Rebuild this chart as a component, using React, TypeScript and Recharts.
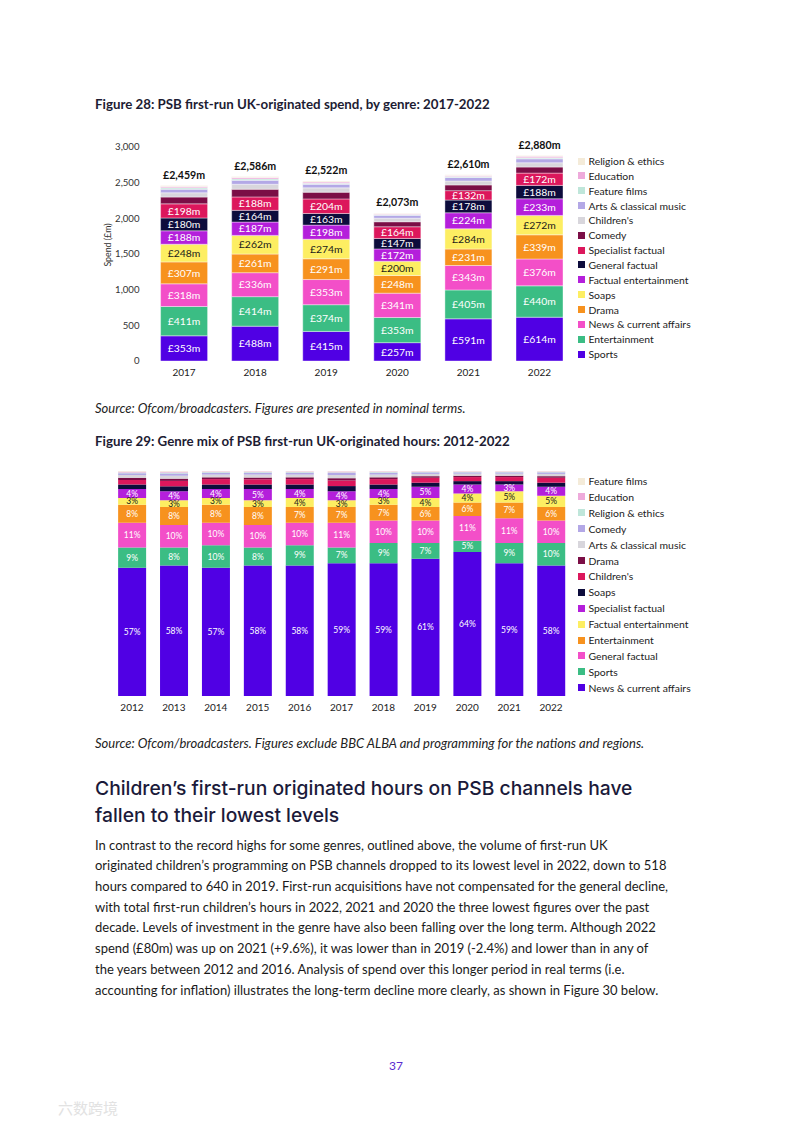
import React from 'react';
import { BarChart, Bar, XAxis, YAxis, LabelList } from 'recharts';

// ---- Figure 28 data (spend, £m) ----
const years28 = ['2017', '2018', '2019', '2020', '2021', '2022'];
const sports28 = [353, 488, 415, 257, 591, 614];
const entertainment28 = [411, 414, 374, 353, 405, 440];
const news28 = [318, 336, 353, 341, 343, 376];
const drama28 = [307, 261, 291, 248, 231, 339];
const soaps28 = [248, 262, 274, 200, 284, 272];
const factEnt28 = [188, 187, 198, 172, 224, 233];
const genFact28 = [180, 164, 163, 147, 178, 188];
const specFact28 = [198, 188, 204, 164, 132, 172];
const comedy28 = [95, 108, 95, 70, 80, 85];
const children28 = [60, 70, 60, 50, 55, 60];
const arts28 = [50, 55, 50, 40, 50, 55];
const feature28 = [20, 20, 15, 10, 12, 15];
const education28 = [20, 20, 18, 12, 15, 20];
const religion28 = [11, 13, 12, 9, 10, 11];
const totals28 = [2459, 2586, 2522, 2073, 2610, 2880];
const yTicks28 = [0, 500, 1000, 1500, 2000, 2500, 3000];

// ---- Figure 29 data (share of hours, %) ----
const years29 = ['2012', '2013', '2014', '2015', '2016', '2017', '2018', '2019', '2020', '2021', '2022'];
const news29 = [57, 58, 57, 58, 58, 59, 59, 61, 64, 59, 58];
const sports29 = [9, 8, 10, 8, 9, 7, 9, 7, 5, 9, 10];
const genFact29 = [11, 10, 10, 10, 10, 11, 10, 10, 11, 11, 10];
const entertainment29 = [8, 8, 8, 8, 7, 7, 7, 6, 6, 7, 6];
const factEnt29 = [3, 3, 3, 3, 4, 3, 3, 4, 4, 5, 5];
const specFact29 = [4, 4, 4, 5, 4, 4, 4, 5, 4, 3, 4];
const soaps29 = [2, 2.2, 2, 2, 2, 2.3, 2, 1.8, 1.5, 1.5, 1.8];
const children29 = [2, 2.4, 2.4, 2.3, 2.4, 2.5, 2.4, 2.2, 1.8, 1.8, 2.2];
const drama29 = [1, 1, 0.8, 0.8, 0.8, 1, 0.8, 0.7, 0.6, 0.6, 0.7];
const arts29 = [1.2, 1.3, 1.2, 1.3, 1.2, 1.4, 1.2, 1, 0.9, 0.9, 1];
const comedy29 = [0.8, 1, 0.8, 0.8, 0.8, 0.9, 0.8, 0.7, 0.6, 0.6, 0.7];
const religion29 = [0.3, 0.4, 0.3, 0.3, 0.3, 0.3, 0.3, 0.2, 0.2, 0.2, 0.2];
const education29 = [0.4, 0.4, 0.3, 0.3, 0.3, 0.4, 0.3, 0.2, 0.2, 0.2, 0.2];
const feature29 = [0.3, 0.3, 0.2, 0.2, 0.2, 0.2, 0.2, 0.2, 0.2, 0.2, 0.2];

const C = {
  purple: '#5000e4',
  green: '#3bbd84',
  pink: '#f34fc8',
  orange: '#f7921e',
  yellow: '#fdee62',
  magenta: '#b41fdb',
  navy: '#0d0c3c',
  crimson: '#dc175c',
  maroon: '#7b0e46',
  grey: '#d8d6dc',
  lavender: '#b3a8e6',
  mint: '#bfe6da',
  lightPink: '#eeaadb',
  cream: '#f4ebd9',
};

// bottom -> top stacking order
const series28 = [
  { key: 'sports', name: 'Sports', color: C.purple, values: sports28, label: '#fff' },
  { key: 'entertainment', name: 'Entertainment', color: C.green, values: entertainment28, label: '#fff' },
  { key: 'news', name: 'News & current affairs', color: C.pink, values: news28, label: '#fff' },
  { key: 'drama', name: 'Drama', color: C.orange, values: drama28, label: '#fff' },
  { key: 'soaps', name: 'Soaps', color: C.yellow, values: soaps28, label: '#1a1a1a' },
  { key: 'factEnt', name: 'Factual entertainment', color: C.magenta, values: factEnt28, label: '#fff' },
  { key: 'genFact', name: 'General factual', color: C.navy, values: genFact28, label: '#fff' },
  { key: 'specFact', name: 'Specialist factual', color: C.crimson, values: specFact28, label: '#fff' },
  { key: 'comedy', name: 'Comedy', color: C.maroon, values: comedy28 },
  { key: 'children', name: "Children's", color: C.grey, values: children28 },
  { key: 'arts', name: 'Arts & classical music', color: C.lavender, values: arts28 },
  { key: 'feature', name: 'Feature films', color: C.mint, values: feature28 },
  { key: 'education', name: 'Education', color: C.lightPink, values: education28 },
  { key: 'religion', name: 'Religion & ethics', color: C.cream, values: religion28 },
];

const series29 = [
  { key: 'news', name: 'News & current affairs', color: C.purple, values: news29, label: '#fff' },
  { key: 'sports', name: 'Sports', color: C.green, values: sports29, label: '#fff' },
  { key: 'genFact', name: 'General factual', color: C.pink, values: genFact29, label: '#fff' },
  { key: 'entertainment', name: 'Entertainment', color: C.orange, values: entertainment29, label: '#fff' },
  { key: 'factEnt', name: 'Factual entertainment', color: C.yellow, values: factEnt29, label: '#1a1a1a' },
  { key: 'specFact', name: 'Specialist factual', color: C.magenta, values: specFact29, label: '#fff' },
  { key: 'soaps', name: 'Soaps', color: C.navy, values: soaps29 },
  { key: 'children', name: "Children's", color: C.crimson, values: children29 },
  { key: 'drama', name: 'Drama', color: C.maroon, values: drama29 },
  { key: 'arts', name: 'Arts & classical music', color: C.grey, values: arts29 },
  { key: 'comedy', name: 'Comedy', color: C.lavender, values: comedy29 },
  { key: 'religion', name: 'Religion & ethics', color: C.mint, values: religion29 },
  { key: 'education', name: 'Education', color: C.lightPink, values: education29 },
  { key: 'feature', name: 'Feature films', color: C.cream, values: feature29 },
];

const data28 = years28.map((year, i) => {
  const row: Record<string, string | number> = { year, total: totals28[i] };
  series28.forEach((s) => (row[s.key] = s.values[i]));
  return row;
});

const data29 = years29.map((year, i) => {
  const row: Record<string, string | number> = { year };
  series29.forEach((s) => (row[s.key] = s.values[i]));
  return row;
});

const FONT = 'Lato, "Open Sans", sans-serif';
const TEXT = '#1d1c33';

function Legend({ items, top, step, left }: { items: { name: string; color: string }[]; top: number; step: number; left: number }) {
  return (
    <div style={{ position: 'absolute', left, top: 0 }}>
      {items.map((it, i) => (
        <div
          key={it.name}
          style={{
            position: 'absolute',
            top: top + i * step - 7,
            left: 0,
            height: 14,
            display: 'flex',
            alignItems: 'center',
            whiteSpace: 'nowrap',
            fontSize: 10.4,
            color: '#222',
          }}
        >
          <span style={{ width: 7, height: 7, background: it.color, marginRight: 3.5, display: 'inline-block' }} />
          {it.name}
        </div>
      ))}
    </div>
  );
}

const abs = (left: number, top: number, extra: React.CSSProperties = {}): React.CSSProperties => ({
  position: 'absolute',
  left,
  top,
  whiteSpace: 'nowrap',
  ...extra,
});

const bodyLines = [
  'In contrast to the record highs for some genres, outlined above, the volume of first-run UK',
  'originated children\u2019s programming on PSB channels dropped to its lowest level in 2022, down to 518',
  'hours compared to 640 in 2019. First-run acquisitions have not compensated for the general decline,',
  'with total first-run children\u2019s hours in 2022, 2021 and 2020 the three lowest figures over the past',
  'decade. Levels of investment in the genre have also been falling over the long term. Although 2022',
  'spend (\u00a380m) was up on 2021 (+9.6%), it was lower than in 2019 (-2.4%) and lower than in any of',
  'the years between 2012 and 2016. Analysis of spend over this longer period in real terms (i.e.',
  'accounting for inflation) illustrates the long-term decline more clearly, as shown in Figure 30 below.',
];

export default function App() {
  return (
    <div style={{ position: 'absolute', left: 0, top: 0, width: 793, height: 1122, background: '#fff', fontFamily: FONT, color: TEXT }}>
      {/* Figure 28 */}
      <div style={abs(95, 95.5, { fontSize: 13.3, fontWeight: 700 })}>
        Figure 28: PSB first-run UK-originated spend, by genre: 2017-2022
      </div>
      <div style={abs(107, 245, { fontSize: 8.8, color: '#333', transform: 'translate(-50%, -50%) rotate(-90deg)' })}>
        Spend (£m)
      </div>
      <div style={abs(95, 130)}>
        <BarChart width={480} height={256} data={data28} margin={{ top: 17, right: 0, bottom: 0, left: 0 }} barCategoryGap="17%">
          <YAxis
            width={53.5}
            domain={[0, 3000]}
            ticks={yTicks28}
            axisLine={false}
            tickLine={false}
            tickMargin={3}
            tick={{ fontSize: 9.6, fill: '#333', fontFamily: FONT }}
            tickFormatter={(v: number) => v.toLocaleString('en-GB')}
          />
          <XAxis
            dataKey="year"
            height={25}
            axisLine={false}
            tickLine={false}
            tick={{ fontSize: 10, fill: '#222', fontFamily: FONT }}
          />
          {series28.map((s, idx) => (
            <Bar key={s.key} dataKey={s.key} stackId="a" fill={s.color} stroke="#fff" strokeWidth={0.4} isAnimationActive={false}>
              {s.label && (
                <LabelList
                  dataKey={s.key}
                  position="center"
                  fill={s.label}
                  style={{ fontSize: 10.4, fontFamily: FONT }}
                  formatter={(v: number) => `£${v}m`}
                />
              )}
              {idx === series28.length - 1 && (
                <LabelList
                  dataKey="total"
                  position="top"
                  offset={7}
                  fill="#111"
                  style={{ fontSize: 10.6, fontWeight: 700, fontFamily: FONT }}
                  formatter={(v: number) => `£${v.toLocaleString('en-GB')}m`}
                />
              )}
            </Bar>
          ))}
        </BarChart>
      </div>
      <Legend items={[...series28].reverse()} top={161} step={14.85} left={578} />
      <div style={abs(95, 399.5, { fontSize: 13, fontStyle: 'italic', color: '#222' })}>
        Source: Ofcom/broadcasters. Figures are presented in nominal terms.
      </div>

      {/* Figure 29 */}
      <div style={abs(95, 432.5, { fontSize: 13.3, fontWeight: 700 })}>
        Figure 29: Genre mix of PSB first-run UK-originated hours: 2012-2022
      </div>
      <div style={abs(111, 466)}>
        <BarChart width={461} height={255} data={data29} stackOffset="expand" margin={{ top: 5, right: 0, bottom: 0, left: 0 }} barCategoryGap="17%">
          <YAxis hide domain={[0, 1]} />
          <XAxis
            dataKey="year"
            height={25}
            axisLine={false}
            tickLine={false}
            tick={{ fontSize: 10, fill: '#222', fontFamily: FONT }}
          />
          {series29.map((s) => (
            <Bar key={s.key} dataKey={s.key} stackId="b" fill={s.color} isAnimationActive={false}>
              {s.label && (
                <LabelList
                  dataKey={s.key}
                  position="center"
                  fill={s.label}
                  style={{ fontSize: 8.5, fontFamily: FONT }}
                  formatter={(v: number) => `${v}%`}
                />
              )}
            </Bar>
          ))}
        </BarChart>
      </div>
      <Legend items={[...series29].reverse()} top={481} step={15.9} left={578} />
      <div style={abs(95, 734.5, { fontSize: 13, fontStyle: 'italic', color: '#222' })}>
        Source: Ofcom/broadcasters. Figures exclude BBC ALBA and programming for the nations and regions.
      </div>

      {/* Heading and body */}
      <div style={abs(95, 774.5, { fontSize: 19.3, fontWeight: 500, lineHeight: '27px', fontFamily: 'Inter, "Noto Sans", sans-serif', color: '#1b1a3a' })}>
        Children’s first-run originated hours on PSB channels have
        <br />
        fallen to their lowest levels
      </div>
      <div style={abs(95, 834.6, { fontSize: 13, lineHeight: '20.7px', color: '#1a1a1a' })}>
        {bodyLines.map((l) => (
          <div key={l}>{l}</div>
        ))}
      </div>
      <div style={abs(396, 1058, { fontSize: 12, color: '#5a2bd0', transform: 'translateX(-50%)' })}>37</div>
      <div style={abs(58, 1097, { fontSize: 15, color: '#e2e2e2', fontFamily: '"Noto Sans CJK SC", sans-serif' })}>六数跨境</div>
    </div>
  );
}
